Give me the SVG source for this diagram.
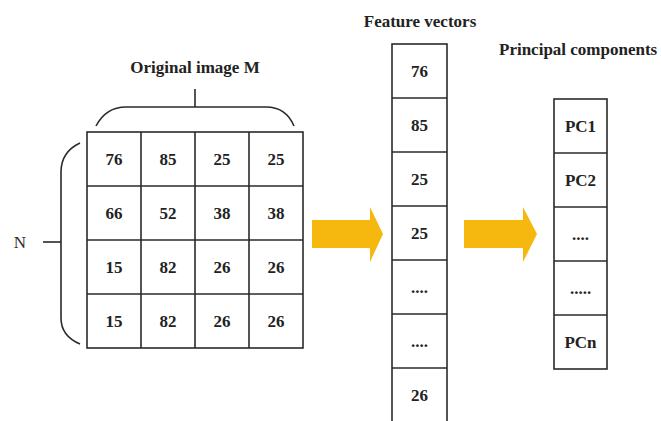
<svg xmlns="http://www.w3.org/2000/svg" width="661" height="421" viewBox="0 0 661 421">
<style>
.t{font-family:"Liberation Serif","Times New Roman",serif;font-weight:bold;font-size:17px;fill:#222;text-anchor:middle}
.n{font-family:"Liberation Serif","Times New Roman",serif;font-size:17px;fill:#2a2a2a;text-anchor:middle}
.c{fill:#fff;stroke:#2a2a2a;stroke-width:1.6}
.b{fill:none;stroke:#2a2a2a;stroke-width:1.6}
.a{fill:#F6B80E}
</style>
<rect width="661" height="421" fill="#fff"/>
<text class="t" x="195" y="73">Original image M</text>
<text class="t" x="420" y="27">Feature vectors</text>
<text class="t" x="499" y="55" style="text-anchor:start">Principal components</text>
<text class="n" x="20" y="248">N</text>
<g id="braces">
<path class="b" d="M96,126 Q106,107 126,107 L266,107 Q286,107 294,126"/>
<line class="b" x1="195" y1="89" x2="195" y2="107"/>
<path class="b" d="M80,143 Q61,152 61,172 L61,318 Q61,336 80,344"/>
<line class="b" x1="43" y1="242" x2="61" y2="242"/>
</g>
<g id="matrix">
<rect class="c" x="87" y="132" width="216" height="216"/>
<line class="b" x1="141" y1="132" x2="141" y2="348"/>
<line class="b" x1="195" y1="132" x2="195" y2="348"/>
<line class="b" x1="249" y1="132" x2="249" y2="348"/>
<line class="b" x1="87" y1="186" x2="303" y2="186"/>
<line class="b" x1="87" y1="240" x2="303" y2="240"/>
<line class="b" x1="87" y1="294" x2="303" y2="294"/>
<text class="t" x="114" y="165">76</text><text class="t" x="168" y="165">85</text><text class="t" x="222" y="165">25</text><text class="t" x="276" y="165">25</text>
<text class="t" x="114" y="219">66</text><text class="t" x="168" y="219">52</text><text class="t" x="222" y="219">38</text><text class="t" x="276" y="219">38</text>
<text class="t" x="114" y="273">15</text><text class="t" x="168" y="273">82</text><text class="t" x="222" y="273">26</text><text class="t" x="276" y="273">26</text>
<text class="t" x="114" y="327">15</text><text class="t" x="168" y="327">82</text><text class="t" x="222" y="327">26</text><text class="t" x="276" y="327">26</text>
</g>
<g id="connectors">
<polygon class="a" points="312,220 370,220 370,207 383,234 370,262 370,248 312,248"/>
<polygon class="a" points="464,220 523,220 523,207 537,234 523,262 523,248 464,248"/>
</g>
<g id="feature-vectors">
<rect class="c" x="392" y="44" width="55" height="380"/>
<line class="b" x1="392" y1="98" x2="447" y2="98"/>
<line class="b" x1="392" y1="152" x2="447" y2="152"/>
<line class="b" x1="392" y1="206" x2="447" y2="206"/>
<line class="b" x1="392" y1="260" x2="447" y2="260"/>
<line class="b" x1="392" y1="314" x2="447" y2="314"/>
<line class="b" x1="392" y1="368" x2="447" y2="368"/>
<text class="t" x="419.5" y="77">76</text>
<text class="t" x="419.5" y="131">85</text>
<text class="t" x="419.5" y="185">25</text>
<text class="t" x="419.5" y="239">25</text>
<text class="t" x="419.5" y="293">....</text>
<text class="t" x="419.5" y="347">....</text>
<text class="t" x="419.5" y="401">26</text>
</g>
<g id="principal-components">
<rect class="c" x="554" y="99" width="53" height="270"/>
<line class="b" x1="554" y1="153" x2="607" y2="153"/>
<line class="b" x1="554" y1="207" x2="607" y2="207"/>
<line class="b" x1="554" y1="261" x2="607" y2="261"/>
<line class="b" x1="554" y1="315" x2="607" y2="315"/>
<text class="t" x="580.5" y="132">PC1</text>
<text class="t" x="580.5" y="186">PC2</text>
<text class="t" x="580.5" y="240">....</text>
<text class="t" x="580.5" y="294">.....</text>
<text class="t" x="580.5" y="348">PCn</text>
</g>
</svg>
